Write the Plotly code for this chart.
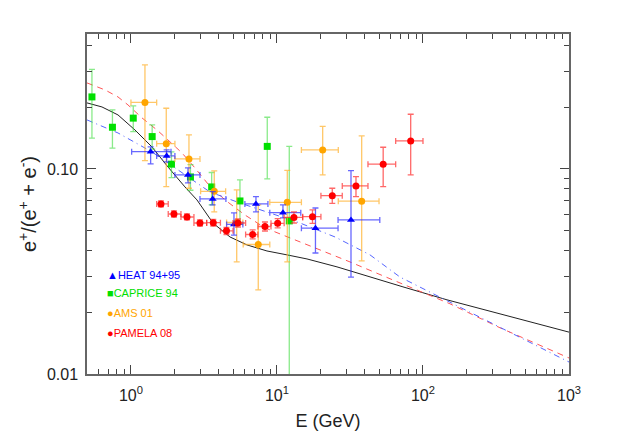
import plotly.graph_objects as go

# model curves (energy GeV, positron fraction)
black_e = [0.5, 0.633, 0.815, 1.065, 1.393, 1.792, 2.343, 2.832, 3.644, 4.766, 6.231, 8.543, 11.71, 16.05, 25.76, 43.36, 72.95, 146.0, 1000]
black_f = [0.2099, 0.2006, 0.1834, 0.1549, 0.1280, 0.1023, 0.0817, 0.0706, 0.0545, 0.0466, 0.0426, 0.0398, 0.0381, 0.0364, 0.0333, 0.0297, 0.0266, 0.0230, 0.0160]

red_e = [0.5, 0.6637, 0.815, 0.9538, 1.19, 1.507, 1.792, 2.236, 2.744, 3.368, 4.404, 6.037, 8.276, 12.27, 19.71, 31.62, 69.58, 153.0, 336.8, 1000]
red_f = [0.2627, 0.2429, 0.2245, 0.2052, 0.1774, 0.1549, 0.1385, 0.1197, 0.1011, 0.0845, 0.0706, 0.0596, 0.0516, 0.0461, 0.0403, 0.0352, 0.0278, 0.0220, 0.0168, 0.01197]

blue_e = [0.5, 0.815, 1.393, 2.343, 3.476, 5.579, 8.957, 14.37, 24.96, 43.36, 69.58, 153.0, 336.8, 1000]
blue_f = [0.1734, 0.1498, 0.1210, 0.0935, 0.0772, 0.0682, 0.0610, 0.0545, 0.0466, 0.0381, 0.0297, 0.02245, 0.01696, 0.01144]

# HEAT 94+95
heat_e = [1.364, 1.756, 2.457, 3.627, 5.076, 7.18, 10.99, 18.35, 32.13]
heat_elo = [1.011, 1.5, 2.0, 2.97, 4.52, 6.03, 8.93, 14.7, 26.2]
heat_ehi = [1.88, 2.0, 2.97, 4.47, 5.84, 8.67, 14.56, 26.2, 50.6]
heat_f = [0.1214, 0.1157, 0.0935, 0.0714, 0.0536, 0.0675, 0.0612, 0.0514, 0.0564]
heat_flo = [0.1058, 0.1082, 0.0855, 0.0668, 0.0476, 0.0617, 0.0577, 0.0389, 0.0297]
heat_fhi = [0.1280, 0.1238, 0.1011, 0.0775, 0.0610, 0.0733, 0.0668, 0.0645, 0.0981]

# CAPRICE 94
cap_e = [0.5405, 0.7468, 1.037, 1.397, 1.894, 2.556, 3.571, 5.579, 8.58, 12.14]
cap_f = [0.2245, 0.1597, 0.1769, 0.1438, 0.1055, 0.0914, 0.0817, 0.0698, 0.1288, 0.0558]
cap_flo = [0.1412, 0.1263, 0.1521, 0.1249, 0.0907, 0.0787, 0.0668, 0.0539, 0.0894, 0.005]
cap_fhi = [0.3058, 0.1940, 0.2029, 0.1639, 0.1210, 0.1049, 0.0961, 0.0884, 0.1787, 0.1288]

# AMS 01
ams_e = [1.247, 1.745, 2.496, 3.72, 5.30, 7.445, 11.77, 20.56, 38.03]
ams_elo = [1.0, 1.5, 2.0, 3.0, 4.52, 5.87, 8.93, 14.7, 26.3]
ams_ehi = [1.5, 2.0, 2.97, 4.45, 5.84, 8.93, 14.7, 26.3, 50.0]
ams_f = [0.2110, 0.1328, 0.1119, 0.0778, 0.0548, 0.0428, 0.0687, 0.1238, 0.0696]
ams_flo = [0.1098, 0.0820, 0.0805, 0.0617, 0.0352, 0.0257, 0.0352, 0.0935, 0.0356]
ams_fhi = [0.3216, 0.1977, 0.1465, 0.0978, 0.0790, 0.0668, 0.0983, 0.1612, 0.1449]

# PAMELA 08
pam_e = [1.605, 1.970, 2.419, 2.969, 3.662, 4.51, 5.405, 6.816, 8.276, 10.11, 13.07, 17.51, 23.92, 34.76, 53.38, 82.37]
pam_elo = [1.5, 1.8, 2.2, 2.7, 3.3, 4.1, 5.0, 6.1, 7.4, 9.1, 11.2, 15, 20, 28, 42, 65]
pam_ehi = [1.8, 2.2, 2.7, 3.3, 4.1, 5.0, 6.1, 7.4, 9.1, 11.2, 15, 20, 28, 42, 65, 100]
pam_f = [0.0675, 0.0603, 0.0583, 0.0545, 0.0547, 0.0499, 0.0545, 0.0479, 0.0524, 0.0543, 0.0580, 0.0585, 0.0741, 0.0826, 0.1055, 0.1369]
pam_flo = [0.0653, 0.0583, 0.0564, 0.0527, 0.0527, 0.0479, 0.0521, 0.0456, 0.0498, 0.0516, 0.0545, 0.0543, 0.0680, 0.0733, 0.0820, 0.0935]
pam_fhi = [0.0698, 0.0624, 0.0603, 0.0564, 0.0567, 0.0518, 0.0570, 0.0504, 0.0551, 0.0573, 0.0617, 0.0631, 0.0805, 0.0917, 0.1276, 0.1848]

x_major = [1, 10, 100, 1000]
x_labels = ["10<sup>0</sup>", "10<sup>1</sup>", "10<sup>2</sup>", "10<sup>3</sup>"]
x_minor = [0.6, 0.7, 0.8, 0.9, 2, 3, 4, 5, 6, 7, 8, 9, 20, 30, 40, 50, 60, 70, 80, 90,
           200, 300, 400, 500, 600, 700, 800, 900]
y_major = [0.01, 0.1]
y_labels = ["0.01", "0.10"]
y_minor = [0.02, 0.03, 0.04, 0.05, 0.06, 0.07, 0.08, 0.09, 0.2, 0.3, 0.4]


def minus(v, lo):
    return [a - b for a, b in zip(v, lo)]


def plus(v, hi):
    return [b - a for a, b in zip(v, hi)]


def points(e, f, flo, fhi, elo, ehi, sym, col, ecol, size):
    ex = dict(visible=False)
    if elo is not None:
        ex = dict(type="data", array=plus(e, ehi), arrayminus=minus(e, elo),
                  color=ecol, thickness=1.3, width=3)
    return go.Scatter(
        x=e, y=f, mode="markers",
        marker=dict(symbol=sym, color=col, size=size),
        error_x=ex,
        error_y=dict(type="data", array=plus(f, fhi), arrayminus=minus(f, flo),
                     color=ecol, thickness=1.3, width=3),
        showlegend=False, cliponaxis=True,
    )


fig = go.Figure()
fig.add_trace(go.Scatter(x=black_e, y=black_f, mode="lines", line=dict(color="#222222", width=1), showlegend=False))
fig.add_trace(go.Scatter(x=red_e, y=red_f, mode="lines", line=dict(color="#ff5555", width=1, dash="6px,5px"), showlegend=False))
fig.add_trace(go.Scatter(x=blue_e, y=blue_f, mode="lines", line=dict(color="#5566ff", width=1, dash="6px,4px,1px,4px"), showlegend=False))

fig.add_trace(points(cap_e, cap_f, cap_flo, cap_fhi, None, None, "square", "#00e000", "rgba(60,220,60,0.6)", 7))
fig.add_trace(points(ams_e, ams_f, ams_flo, ams_fhi, ams_elo, ams_ehi, "circle", "#ffa500", "rgba(255,175,40,0.7)", 7))
fig.add_trace(points(heat_e, heat_f, heat_flo, heat_fhi, heat_elo, heat_ehi, "triangle-up", "#0000ff", "rgba(40,40,255,0.7)", 7))
fig.add_trace(points(pam_e, pam_f, pam_flo, pam_fhi, pam_elo, pam_ehi, "circle", "#ff0000", "rgba(255,40,40,0.7)", 7))

legend_items = [("▲HEAT 94+95", "#0000ff", 0.291), ("■CAPRICE 94", "#00e000", 0.237),
                ("●AMS 01", "#ffa500", 0.179), ("●PAMELA 08", "#ff0000", 0.122)]
for txt, col, yy in legend_items:
    fig.add_annotation(text=txt, xref="paper", yref="paper", x=0.037, y=yy,
                       xanchor="left", yanchor="middle", showarrow=False,
                       font=dict(size=11, color=col))

axis_common = dict(
    type="log", showgrid=False, zeroline=False, showline=True, linecolor="#666666",
    linewidth=1.5, mirror="allticks", ticks="inside", ticklen=9, tickcolor="#444444",
    tickfont=dict(size=16, color="#222222"), automargin=False,
)
fig.update_xaxes(**axis_common, range=[-0.30103, 3], tickvals=x_major, ticktext=x_labels,
                 minor=dict(tickvals=x_minor, ticks="inside", ticklen=5, tickcolor="#444444"),
                 ticklabelstandoff=6,
                 title=dict(text="E (GeV)", font=dict(size=18, color="#222222"), standoff=11))
fig.update_yaxes(**axis_common, range=[-2, -0.342], tickvals=y_major, ticktext=y_labels,
                 minor=dict(tickvals=y_minor, ticks="inside", ticklen=5, tickcolor="#444444"),
                 ticklabelstandoff=4,
                 title=dict(text="e<sup>+</sup>/(e<sup>+</sup>\u00a0+\u00a0e<sup>-</sup>)",
                            font=dict(size=20, color="#222222"), standoff=5))

fig.update_layout(
    width=623, height=445,
    margin=dict(l=79, r=62, t=26, b=79),
    paper_bgcolor="white", plot_bgcolor="white",
    font=dict(family="Liberation Sans, Arial, sans-serif"),
)

fig.write_html("out.html")
